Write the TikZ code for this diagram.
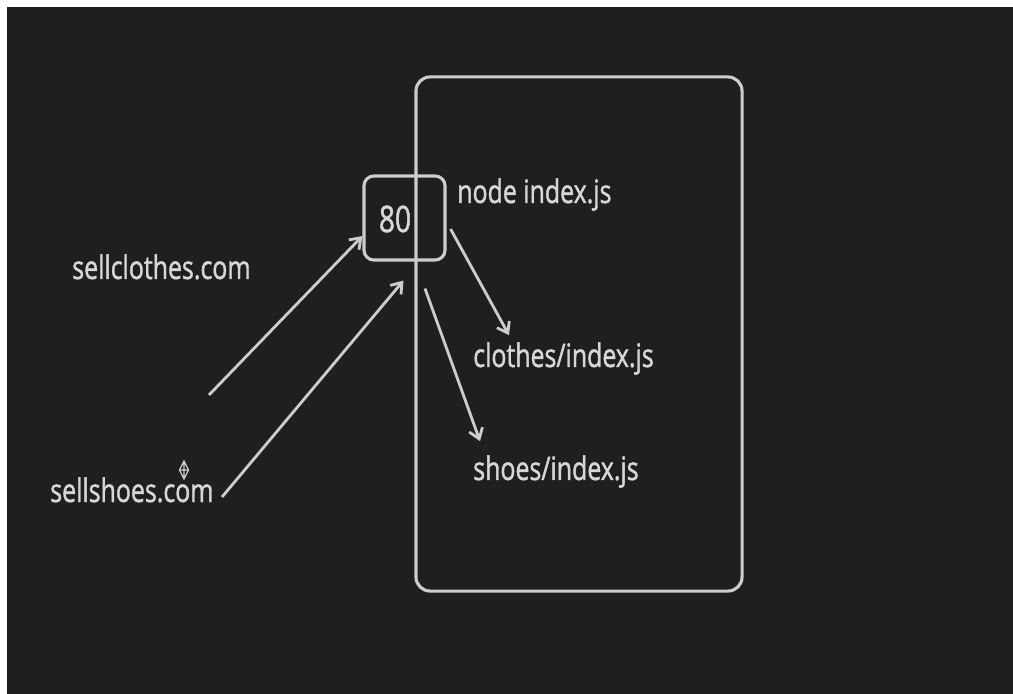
\documentclass[tikz,border=0pt]{standalone}
\usepackage{fontspec}
\setmainfont{Open Sans}
\newfontfamily\boardfont[FakeStretch=0.77, FakeBold=1.2]{Open Sans}
\usetikzlibrary{arrows.meta,calc}
\definecolor{board}{RGB}{31,31,31}
\definecolor{chalk}{RGB}{205,205,205}
\definecolor{chalktext}{RGB}{215,215,215}
\tikzstyle{frame box}   = [draw=chalk, line width=2.2pt, inner sep=0]
\tikzstyle{chalk text}  = [text=chalktext, inner sep=0, font=\boardfont\fontsize{23}{27}\selectfont]
\tikzstyle{chalk arrow} = [draw=chalk, line width=2pt, -{Straight Barb[length=7pt,width=10pt]}]

\begin{document}
\begin{tikzpicture}[x=0.025cm, y=-0.025cm]

    % page and dark board
    \useasboundingbox (0,0) rectangle (1013,694);
    \fill[white] (0,0) rectangle (1013,694);
    \fill[board] (7,7) rectangle (1013,694);

    % the server
    \node(server)[frame box, rounded corners=10pt, minimum width=8.15cm, minimum height=12.85cm] at (579,334) {};
    \node(entry)[chalk text, anchor=base west] at (457,203) {node index.js};

    % port 80
    \node(port)[frame box, rounded corners=7pt, minimum width=2.025cm, minimum height=2.1cm] at (404.5,218) {};
    \node(portnum)[chalk text, font=\boardfont\fontsize{26}{30}\selectfont] at (395,219) {80};

    % the two domains
    \node(sellclothes)[chalk text, anchor=base west] at (72,279) {sellclothes.com};
    \node(sellshoes)[chalk text, anchor=base west] at (50,502) {sellshoes.com};
    \coordinate(clothes tail) at (209,395);
    \coordinate(shoes tail) at (222,497);

    % the two apps
    \node(clothes)[chalk text, anchor=base west] at (473,367) {clothes/index.js};
    \node(shoes)[chalk text, anchor=base west] at (473,480) {shoes/index.js};

    % requests in
    \draw[chalk arrow] (clothes tail) -- ($(port.west)+(0,18)$);
    \draw[chalk arrow] (shoes tail) -- ($(port.south)+(-1,19)$);

    % routed out
    \draw[chalk arrow] ($(port.east)+(4,11)$) -- ($(clothes.north west)+(36,-7)$);
    \draw[chalk arrow] ($(port.south)+(20.5,27)$) -- ($(shoes.north west)+(7,-14)$);

    % mouse pointer
    \draw[chalk, line width=0.9pt] (184,461) -- (188.5,470) -- (184,479) -- (179.5,470) -- cycle
        (179.5,470) -- (188.5,470) (184,463) -- (184,477);

\end{tikzpicture}
\end{document}
